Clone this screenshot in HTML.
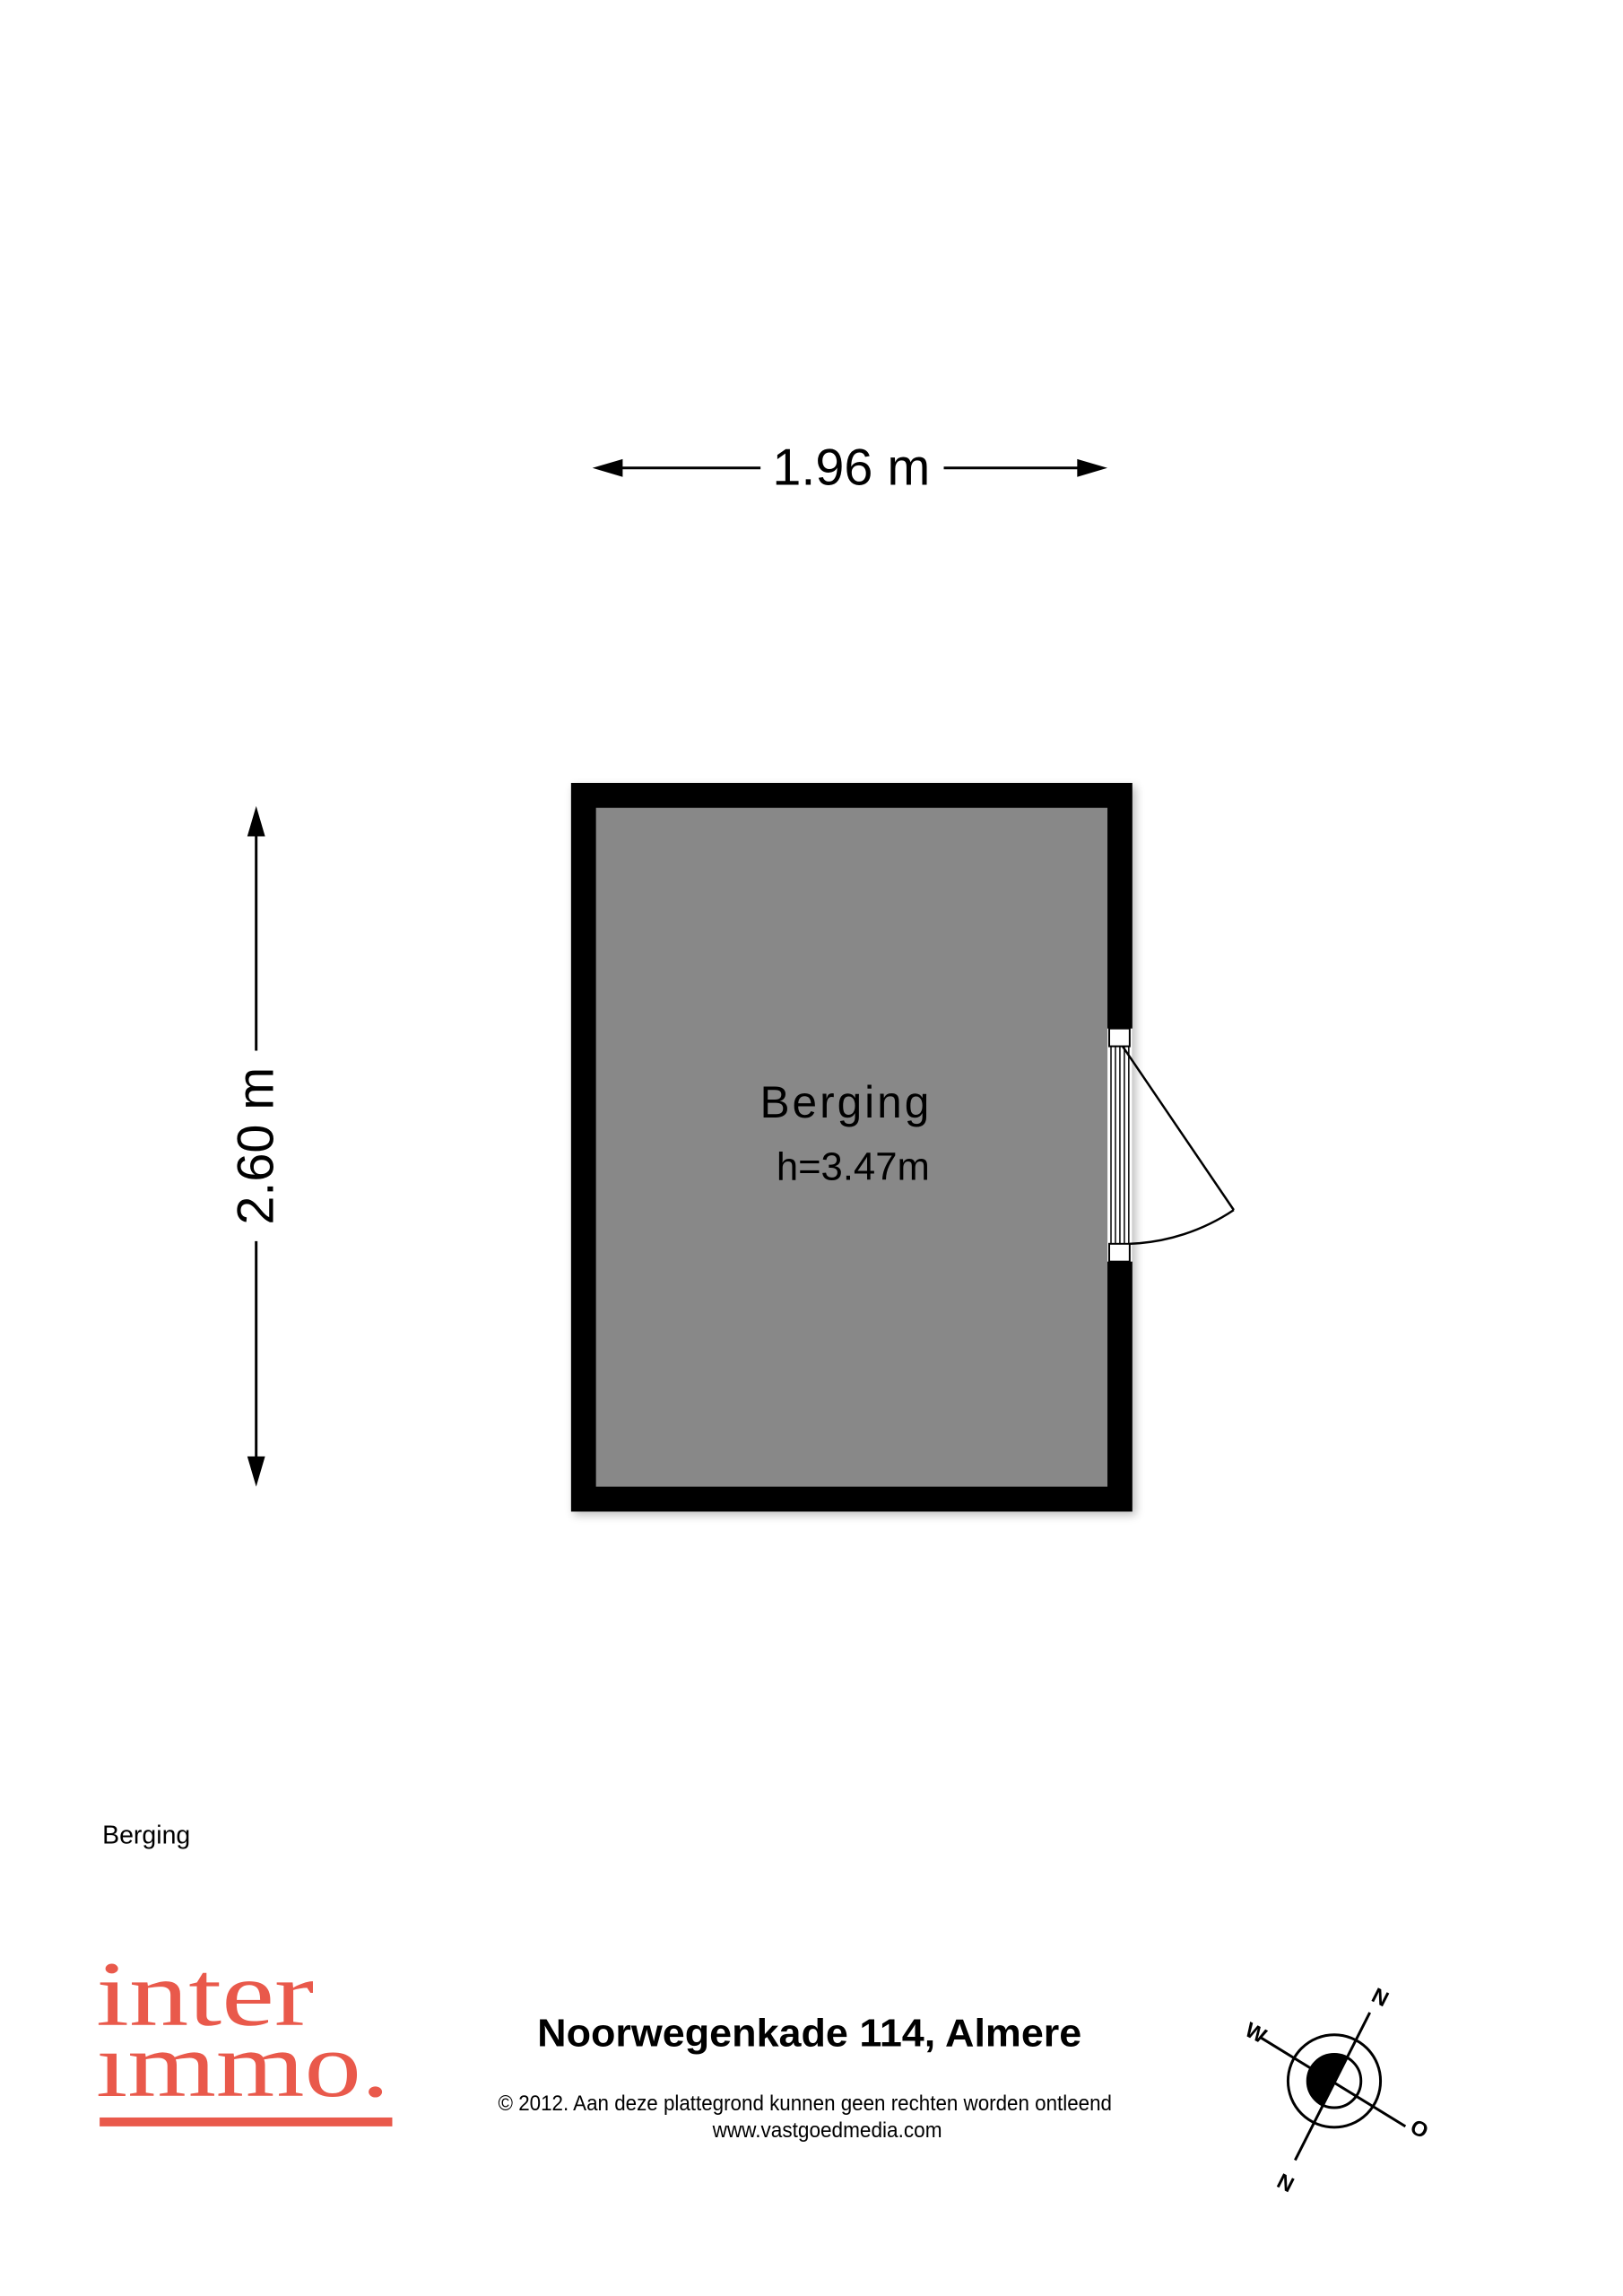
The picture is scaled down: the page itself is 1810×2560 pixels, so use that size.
<!DOCTYPE html>
<html><head><meta charset="utf-8"><style>html,body{margin:0;padding:0;background:#fff}svg{display:block}</style></head>
<body>
<svg width="1810" height="2560" viewBox="0 0 1810 2560" xmlns="http://www.w3.org/2000/svg" font-family="Liberation Sans, sans-serif">
<defs>
<filter id="sh" x="-5%" y="-5%" width="110%" height="110%"><feGaussianBlur stdDeviation="5"/></filter>
</defs>
<g transform="scale(0.992)">
<!-- horizontal dimension -->
<line x1="680" y1="526" x2="855" y2="526" stroke="#000" stroke-width="3"/>
<line x1="1061" y1="526" x2="1230" y2="526" stroke="#000" stroke-width="3"/>
<polygon points="666,526 700,516 700,536" fill="#000"/>
<polygon points="1245,526 1211,516 1211,536" fill="#000"/>
<text x="957" y="545" font-size="58" text-anchor="middle">1.96 m</text>
<!-- vertical dimension -->
<line x1="288" y1="920" x2="288" y2="1181" stroke="#000" stroke-width="3"/>
<line x1="288" y1="1395" x2="288" y2="1657" stroke="#000" stroke-width="3"/>
<polygon points="288,906 278,940 298,940" fill="#000"/>
<polygon points="288,1671 278,1637 298,1637" fill="#000"/>
<text transform="translate(307,1288) rotate(-90)" font-size="58" text-anchor="middle">2.60 m</text>
<!-- room -->
<rect x="645" y="884" width="632" height="819" fill="#000" opacity="0.25" filter="url(#sh)"/>
<rect x="642" y="880" width="631" height="819" fill="#000"/>
<rect x="670" y="908" width="575" height="763" fill="#888"/>
<!-- door -->
<rect x="1245" y="1156" width="28" height="262" fill="#fff"/>
<rect x="1247" y="1156" width="23" height="20" fill="#fff" stroke="#000" stroke-width="2"/>
<rect x="1247" y="1398" width="23" height="20" fill="#fff" stroke="#000" stroke-width="2"/>
<g stroke="#000" stroke-width="1.5" fill="none">
<line x1="1249" y1="1176" x2="1249" y2="1398"/>
<line x1="1254" y1="1176" x2="1254" y2="1398"/>
<line x1="1259" y1="1176" x2="1259" y2="1398"/>
<line x1="1264" y1="1176" x2="1264" y2="1398"/>
<line x1="1269" y1="1176" x2="1269" y2="1398"/>
<line x1="1262" y1="1176" x2="1387" y2="1360" stroke-width="2.5"/>
<path d="M1387,1360 A225,225 0 0 1 1270,1398" stroke-width="2.5"/>
</g>
<text x="951" y="1256" font-size="50" text-anchor="middle" letter-spacing="3">Berging</text>
<text x="959" y="1326" font-size="44" text-anchor="middle">h=3.47m</text>
<!-- footer -->
<text x="115" y="2072" font-size="29" textLength="99" lengthAdjust="spacingAndGlyphs">Berging</text>
<g fill="#e9594b" font-family="Liberation Serif, serif">
<text x="108" y="2276" font-size="104" textLength="245" lengthAdjust="spacingAndGlyphs">inter</text>
<text x="108" y="2356" font-size="104" textLength="330" lengthAdjust="spacingAndGlyphs">ımmo.</text>
</g>
<rect x="112" y="2380" width="329" height="10" fill="#e9594b"/>
<text x="910" y="2300" font-size="44" font-weight="bold" text-anchor="middle" textLength="612" lengthAdjust="spacingAndGlyphs">Noorwegenkade 114, Almere</text>
<text x="905" y="2372" font-size="24" text-anchor="middle" textLength="690" lengthAdjust="spacingAndGlyphs">© 2012. Aan deze plattegrond kunnen geen rechten worden ontleend</text>
<text x="930" y="2402" font-size="24" text-anchor="middle" textLength="258" lengthAdjust="spacingAndGlyphs">www.vastgoedmedia.com</text>
<!-- compass -->
<g stroke="#000" fill="none" stroke-width="3">
<circle cx="1500" cy="2339" r="52"/>
<circle cx="1500" cy="2339" r="30"/>
<line x1="1540" y1="2262" x2="1456" y2="2428"/>
<line x1="1417" y1="2290" x2="1580" y2="2390"/>
</g>
<path d="M1500,2309 A30,30 0 0 0 1500,2369 Z" fill="#000" transform="rotate(27 1500 2339)"/>
<g font-size="24" font-weight="bold" text-anchor="middle">
<text transform="translate(1548,2252) rotate(27)">N</text>
<text transform="translate(1449,2446) rotate(207)">N</text>
<text transform="translate(1408,2292) rotate(27)">W</text>
<text transform="translate(1592,2400) rotate(27)">O</text>
</g>
</g>
</svg>
</body></html>
